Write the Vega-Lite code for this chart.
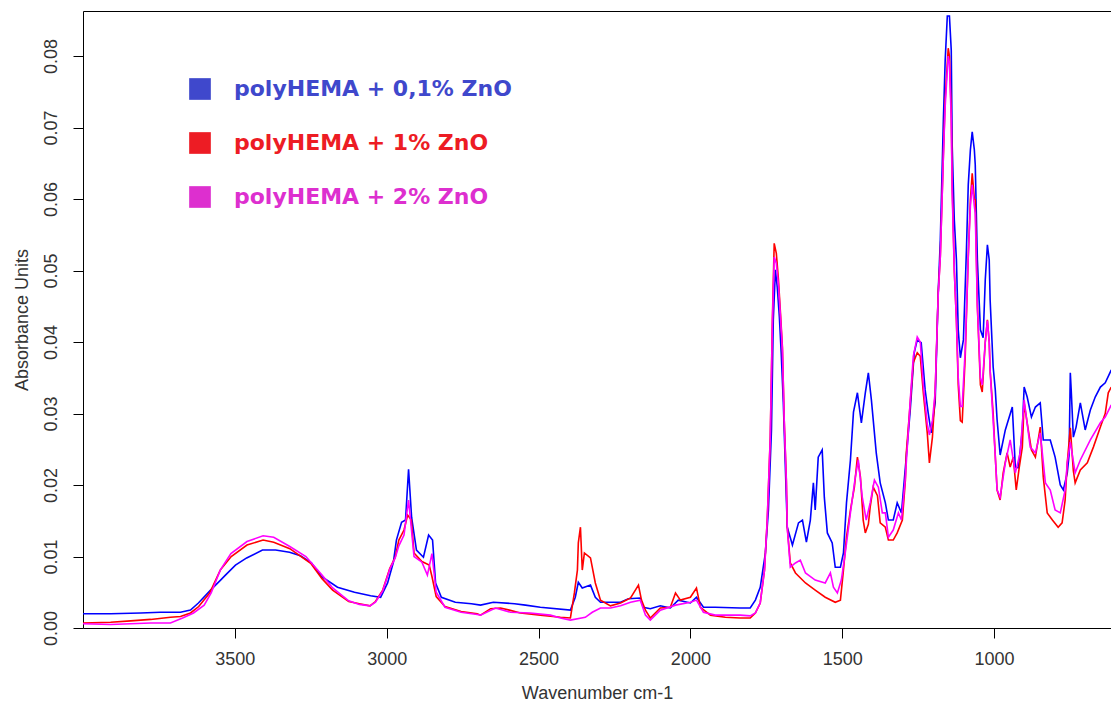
{
"$schema":"https://vega.github.io/schema/vega-lite/v6.json",
"width":1028,"height":617,
"autosize":{"type":"none"},
"padding":{"left":83,"top":11,"right":0,"bottom":74},
"background":"white",
"config":{"view":{"stroke":null},"font":"Liberation Sans"},
"datasets":{
"blue":[{"wn":4000,"abs":0.0020},{"wn":3909,"abs":0.0020},{"wn":3810,"abs":0.0021},{"wn":3745,"abs":0.0022},{"wn":3679,"abs":0.0022},{"wn":3646,"abs":0.0025},{"wn":3620,"abs":0.0035},{"wn":3580,"abs":0.0053},{"wn":3547,"abs":0.0067},{"wn":3531,"abs":0.0074},{"wn":3498,"abs":0.0088},{"wn":3461,"abs":0.0098},{"wn":3409,"abs":0.0109},{"wn":3366,"abs":0.0109},{"wn":3320,"abs":0.0106},{"wn":3284,"abs":0.0101},{"wn":3248,"abs":0.0091},{"wn":3215,"abs":0.0072},{"wn":3162,"abs":0.0057},{"wn":3106,"abs":0.0050},{"wn":3053,"abs":0.0045},{"wn":3020,"abs":0.0043},{"wn":2997,"abs":0.0063},{"wn":2978,"abs":0.0092},{"wn":2968,"abs":0.0123},{"wn":2951,"abs":0.0148},{"wn":2938,"abs":0.0151},{"wn":2928,"abs":0.0222},{"wn":2918,"abs":0.0155},{"wn":2902,"abs":0.0109},{"wn":2879,"abs":0.0099},{"wn":2862,"abs":0.0130},{"wn":2849,"abs":0.0123},{"wn":2839,"abs":0.0063},{"wn":2820,"abs":0.0043},{"wn":2774,"abs":0.0036},{"wn":2721,"abs":0.0034},{"wn":2691,"abs":0.0032},{"wn":2649,"abs":0.0036},{"wn":2579,"abs":0.0034},{"wn":2543,"abs":0.0032},{"wn":2494,"abs":0.0029},{"wn":2395,"abs":0.0025},{"wn":2379,"abs":0.0043},{"wn":2369,"abs":0.0064},{"wn":2356,"abs":0.0056},{"wn":2329,"abs":0.0060},{"wn":2313,"abs":0.0043},{"wn":2296,"abs":0.0036},{"wn":2230,"abs":0.0036},{"wn":2204,"abs":0.0041},{"wn":2165,"abs":0.0042},{"wn":2155,"abs":0.0029},{"wn":2132,"abs":0.0027},{"wn":2099,"abs":0.0031},{"wn":2066,"abs":0.0028},{"wn":2040,"abs":0.0039},{"wn":2000,"abs":0.0035},{"wn":1980,"abs":0.0043},{"wn":1957,"abs":0.0029},{"wn":1918,"abs":0.0029},{"wn":1836,"abs":0.0028},{"wn":1803,"abs":0.0028},{"wn":1786,"abs":0.0039},{"wn":1770,"abs":0.0057},{"wn":1753,"abs":0.0105},{"wn":1743,"abs":0.0165},{"wn":1733,"abs":0.0277},{"wn":1727,"abs":0.0431},{"wn":1720,"abs":0.0501},{"wn":1714,"abs":0.0477},{"wn":1707,"abs":0.0435},{"wn":1701,"abs":0.0385},{"wn":1694,"abs":0.0315},{"wn":1687,"abs":0.0221},{"wn":1681,"abs":0.0141},{"wn":1664,"abs":0.0116},{"wn":1644,"abs":0.0147},{"wn":1631,"abs":0.0151},{"wn":1618,"abs":0.0120},{"wn":1605,"abs":0.0151},{"wn":1595,"abs":0.0203},{"wn":1589,"abs":0.0165},{"wn":1579,"abs":0.0239},{"wn":1566,"abs":0.0249},{"wn":1559,"abs":0.0183},{"wn":1549,"abs":0.0133},{"wn":1533,"abs":0.0119},{"wn":1523,"abs":0.0085},{"wn":1506,"abs":0.0085},{"wn":1496,"abs":0.0105},{"wn":1486,"abs":0.0175},{"wn":1473,"abs":0.0235},{"wn":1463,"abs":0.0302},{"wn":1450,"abs":0.0329},{"wn":1437,"abs":0.0287},{"wn":1424,"abs":0.0329},{"wn":1414,"abs":0.0357},{"wn":1404,"abs":0.0319},{"wn":1388,"abs":0.0245},{"wn":1375,"abs":0.0203},{"wn":1358,"abs":0.0175},{"wn":1348,"abs":0.0151},{"wn":1332,"abs":0.0151},{"wn":1319,"abs":0.0175},{"wn":1305,"abs":0.0161},{"wn":1292,"abs":0.0225},{"wn":1276,"abs":0.0305},{"wn":1263,"abs":0.0385},{"wn":1253,"abs":0.0403},{"wn":1240,"abs":0.0399},{"wn":1227,"abs":0.0333},{"wn":1217,"abs":0.0301},{"wn":1207,"abs":0.0273},{"wn":1194,"abs":0.0315},{"wn":1184,"abs":0.0469},{"wn":1177,"abs":0.0543},{"wn":1167,"abs":0.0710},{"wn":1161,"abs":0.0794},{"wn":1154,"abs":0.0856},{"wn":1147,"abs":0.0856},{"wn":1141,"abs":0.0808},{"wn":1138,"abs":0.0676},{"wn":1131,"abs":0.0571},{"wn":1124,"abs":0.0515},{"wn":1118,"abs":0.0417},{"wn":1111,"abs":0.0378},{"wn":1101,"abs":0.0403},{"wn":1091,"abs":0.0529},{"wn":1085,"abs":0.0620},{"wn":1078,"abs":0.0669},{"wn":1072,"abs":0.0694},{"wn":1065,"abs":0.0669},{"wn":1062,"abs":0.0648},{"wn":1055,"abs":0.0515},{"wn":1045,"abs":0.0417},{"wn":1036,"abs":0.0406},{"wn":1029,"abs":0.0487},{"wn":1022,"abs":0.0536},{"wn":1016,"abs":0.0515},{"wn":1013,"abs":0.0459},{"wn":1003,"abs":0.0365},{"wn":996,"abs":0.0333},{"wn":990,"abs":0.0291},{"wn":980,"abs":0.0242},{"wn":963,"abs":0.0277},{"wn":940,"abs":0.0309},{"wn":930,"abs":0.0225},{"wn":920,"abs":0.0224},{"wn":907,"abs":0.0277},{"wn":901,"abs":0.0337},{"wn":891,"abs":0.0323},{"wn":877,"abs":0.0295},{"wn":864,"abs":0.0309},{"wn":848,"abs":0.0315},{"wn":838,"abs":0.0263},{"wn":815,"abs":0.0263},{"wn":799,"abs":0.0239},{"wn":782,"abs":0.0200},{"wn":772,"abs":0.0193},{"wn":759,"abs":0.0217},{"wn":753,"abs":0.0242},{"wn":749,"abs":0.0357},{"wn":746,"abs":0.0333},{"wn":739,"abs":0.0267},{"wn":730,"abs":0.0281},{"wn":716,"abs":0.0315},{"wn":700,"abs":0.0277},{"wn":683,"abs":0.0305},{"wn":667,"abs":0.0323},{"wn":650,"abs":0.0337},{"wn":634,"abs":0.0343},{"wn":614,"abs":0.0361}],
"red":[{"wn":4000,"abs":0.0007},{"wn":3909,"abs":0.0008},{"wn":3843,"abs":0.0010},{"wn":3777,"abs":0.0012},{"wn":3712,"abs":0.0015},{"wn":3679,"abs":0.0016},{"wn":3646,"abs":0.0021},{"wn":3619,"abs":0.0030},{"wn":3583,"abs":0.0049},{"wn":3548,"abs":0.0081},{"wn":3512,"abs":0.0100},{"wn":3460,"abs":0.0116},{"wn":3407,"abs":0.0123},{"wn":3372,"abs":0.0120},{"wn":3319,"abs":0.0111},{"wn":3249,"abs":0.0090},{"wn":3213,"abs":0.0069},{"wn":3178,"abs":0.0053},{"wn":3125,"abs":0.0037},{"wn":3090,"abs":0.0034},{"wn":3055,"abs":0.0031},{"wn":3037,"abs":0.0037},{"wn":3013,"abs":0.0053},{"wn":2990,"abs":0.0083},{"wn":2972,"abs":0.0099},{"wn":2960,"abs":0.0123},{"wn":2943,"abs":0.0137},{"wn":2931,"abs":0.0158},{"wn":2919,"abs":0.0151},{"wn":2910,"abs":0.0105},{"wn":2884,"abs":0.0093},{"wn":2860,"abs":0.0088},{"wn":2851,"abs":0.0072},{"wn":2837,"abs":0.0044},{"wn":2808,"abs":0.0030},{"wn":2755,"abs":0.0023},{"wn":2702,"abs":0.0020},{"wn":2691,"abs":0.0018},{"wn":2658,"abs":0.0027},{"wn":2625,"abs":0.0028},{"wn":2596,"abs":0.0025},{"wn":2560,"abs":0.0021},{"wn":2494,"abs":0.0018},{"wn":2428,"abs":0.0015},{"wn":2395,"abs":0.0014},{"wn":2382,"abs":0.0049},{"wn":2372,"abs":0.0081},{"wn":2369,"abs":0.0119},{"wn":2362,"abs":0.0141},{"wn":2356,"abs":0.0081},{"wn":2349,"abs":0.0105},{"wn":2329,"abs":0.0098},{"wn":2313,"abs":0.0063},{"wn":2296,"abs":0.0039},{"wn":2263,"abs":0.0031},{"wn":2230,"abs":0.0035},{"wn":2197,"abs":0.0042},{"wn":2171,"abs":0.0060},{"wn":2161,"abs":0.0039},{"wn":2148,"abs":0.0025},{"wn":2132,"abs":0.0014},{"wn":2099,"abs":0.0028},{"wn":2066,"abs":0.0029},{"wn":2049,"abs":0.0049},{"wn":2033,"abs":0.0039},{"wn":2000,"abs":0.0043},{"wn":1980,"abs":0.0056},{"wn":1967,"abs":0.0029},{"wn":1934,"abs":0.0018},{"wn":1885,"abs":0.0015},{"wn":1836,"abs":0.0014},{"wn":1803,"abs":0.0014},{"wn":1786,"abs":0.0021},{"wn":1770,"abs":0.0035},{"wn":1756,"abs":0.0081},{"wn":1747,"abs":0.0151},{"wn":1737,"abs":0.0267},{"wn":1730,"abs":0.0431},{"wn":1724,"abs":0.0538},{"wn":1717,"abs":0.0524},{"wn":1710,"abs":0.0487},{"wn":1704,"abs":0.0445},{"wn":1697,"abs":0.0393},{"wn":1691,"abs":0.0291},{"wn":1684,"abs":0.0207},{"wn":1681,"abs":0.0141},{"wn":1671,"abs":0.0091},{"wn":1654,"abs":0.0077},{"wn":1621,"abs":0.0063},{"wn":1589,"abs":0.0053},{"wn":1556,"abs":0.0043},{"wn":1523,"abs":0.0036},{"wn":1506,"abs":0.0039},{"wn":1496,"abs":0.0081},{"wn":1486,"abs":0.0127},{"wn":1473,"abs":0.0165},{"wn":1460,"abs":0.0197},{"wn":1450,"abs":0.0239},{"wn":1440,"abs":0.0211},{"wn":1431,"abs":0.0151},{"wn":1424,"abs":0.0133},{"wn":1414,"abs":0.0145},{"wn":1408,"abs":0.0169},{"wn":1398,"abs":0.0197},{"wn":1384,"abs":0.0185},{"wn":1375,"abs":0.0147},{"wn":1358,"abs":0.0141},{"wn":1348,"abs":0.0123},{"wn":1332,"abs":0.0123},{"wn":1319,"abs":0.0133},{"wn":1302,"abs":0.0151},{"wn":1292,"abs":0.0207},{"wn":1289,"abs":0.0245},{"wn":1276,"abs":0.0315},{"wn":1266,"abs":0.0371},{"wn":1253,"abs":0.0385},{"wn":1243,"abs":0.0380},{"wn":1233,"abs":0.0329},{"wn":1220,"abs":0.0273},{"wn":1213,"abs":0.0231},{"wn":1203,"abs":0.0267},{"wn":1194,"abs":0.0329},{"wn":1184,"abs":0.0469},{"wn":1177,"abs":0.0520},{"wn":1167,"abs":0.0660},{"wn":1161,"abs":0.0740},{"wn":1154,"abs":0.0790},{"wn":1151,"abs":0.0811},{"wn":1147,"abs":0.0800},{"wn":1141,"abs":0.0720},{"wn":1138,"abs":0.0620},{"wn":1131,"abs":0.0500},{"wn":1124,"abs":0.0430},{"wn":1118,"abs":0.0340},{"wn":1111,"abs":0.0290},{"wn":1105,"abs":0.0288},{"wn":1095,"abs":0.0380},{"wn":1085,"abs":0.0520},{"wn":1078,"abs":0.0599},{"wn":1072,"abs":0.0636},{"wn":1065,"abs":0.0600},{"wn":1062,"abs":0.0599},{"wn":1055,"abs":0.0450},{"wn":1045,"abs":0.0340},{"wn":1039,"abs":0.0330},{"wn":1029,"abs":0.0400},{"wn":1022,"abs":0.0431},{"wn":1016,"abs":0.0400},{"wn":1013,"abs":0.0360},{"wn":1003,"abs":0.0300},{"wn":996,"abs":0.0240},{"wn":990,"abs":0.0193},{"wn":980,"abs":0.0179},{"wn":970,"abs":0.0217},{"wn":957,"abs":0.0245},{"wn":947,"abs":0.0225},{"wn":937,"abs":0.0239},{"wn":927,"abs":0.0193},{"wn":917,"abs":0.0225},{"wn":907,"abs":0.0253},{"wn":901,"abs":0.0315},{"wn":891,"abs":0.0287},{"wn":877,"abs":0.0249},{"wn":864,"abs":0.0239},{"wn":848,"abs":0.0281},{"wn":838,"abs":0.0211},{"wn":825,"abs":0.0161},{"wn":808,"abs":0.0151},{"wn":789,"abs":0.0141},{"wn":776,"abs":0.0147},{"wn":766,"abs":0.0179},{"wn":759,"abs":0.0231},{"wn":749,"abs":0.0280},{"wn":739,"abs":0.0220},{"wn":733,"abs":0.0203},{"wn":716,"abs":0.0221},{"wn":693,"abs":0.0231},{"wn":673,"abs":0.0253},{"wn":650,"abs":0.0281},{"wn":634,"abs":0.0300},{"wn":624,"abs":0.0329},{"wn":614,"abs":0.0337}],
"magenta":[{"wn":4000,"abs":0.0006},{"wn":3909,"abs":0.0005},{"wn":3843,"abs":0.0006},{"wn":3777,"abs":0.0007},{"wn":3712,"abs":0.0007},{"wn":3672,"abs":0.0014},{"wn":3636,"abs":0.0021},{"wn":3601,"abs":0.0032},{"wn":3578,"abs":0.0049},{"wn":3548,"abs":0.0081},{"wn":3513,"abs":0.0104},{"wn":3460,"abs":0.0121},{"wn":3407,"abs":0.0129},{"wn":3372,"abs":0.0127},{"wn":3319,"abs":0.0114},{"wn":3266,"abs":0.0100},{"wn":3213,"abs":0.0074},{"wn":3178,"abs":0.0056},{"wn":3125,"abs":0.0038},{"wn":3090,"abs":0.0033},{"wn":3055,"abs":0.0031},{"wn":3037,"abs":0.0036},{"wn":3013,"abs":0.0052},{"wn":2990,"abs":0.0082},{"wn":2972,"abs":0.0098},{"wn":2960,"abs":0.0115},{"wn":2943,"abs":0.0130},{"wn":2928,"abs":0.0179},{"wn":2919,"abs":0.0140},{"wn":2910,"abs":0.0100},{"wn":2884,"abs":0.0092},{"wn":2866,"abs":0.0074},{"wn":2851,"abs":0.0104},{"wn":2837,"abs":0.0050},{"wn":2808,"abs":0.0029},{"wn":2755,"abs":0.0022},{"wn":2702,"abs":0.0019},{"wn":2691,"abs":0.0018},{"wn":2642,"abs":0.0028},{"wn":2592,"abs":0.0022},{"wn":2527,"abs":0.0021},{"wn":2461,"abs":0.0018},{"wn":2428,"abs":0.0014},{"wn":2395,"abs":0.0011},{"wn":2346,"abs":0.0015},{"wn":2323,"abs":0.0022},{"wn":2296,"abs":0.0028},{"wn":2263,"abs":0.0028},{"wn":2230,"abs":0.0031},{"wn":2197,"abs":0.0036},{"wn":2165,"abs":0.0039},{"wn":2148,"abs":0.0018},{"wn":2132,"abs":0.0011},{"wn":2099,"abs":0.0025},{"wn":2049,"abs":0.0032},{"wn":2000,"abs":0.0036},{"wn":1980,"abs":0.0039},{"wn":1957,"abs":0.0022},{"wn":1918,"abs":0.0018},{"wn":1836,"abs":0.0018},{"wn":1803,"abs":0.0017},{"wn":1786,"abs":0.0021},{"wn":1770,"abs":0.0035},{"wn":1756,"abs":0.0081},{"wn":1747,"abs":0.0150},{"wn":1737,"abs":0.0265},{"wn":1730,"abs":0.0425},{"wn":1724,"abs":0.0519},{"wn":1717,"abs":0.0510},{"wn":1710,"abs":0.0480},{"wn":1704,"abs":0.0440},{"wn":1697,"abs":0.0390},{"wn":1691,"abs":0.0290},{"wn":1684,"abs":0.0205},{"wn":1681,"abs":0.0140},{"wn":1671,"abs":0.0085},{"wn":1654,"abs":0.0091},{"wn":1638,"abs":0.0095},{"wn":1621,"abs":0.0077},{"wn":1589,"abs":0.0067},{"wn":1556,"abs":0.0063},{"wn":1539,"abs":0.0077},{"wn":1529,"abs":0.0057},{"wn":1516,"abs":0.0049},{"wn":1503,"abs":0.0067},{"wn":1490,"abs":0.0105},{"wn":1473,"abs":0.0161},{"wn":1457,"abs":0.0211},{"wn":1447,"abs":0.0235},{"wn":1434,"abs":0.0183},{"wn":1421,"abs":0.0151},{"wn":1408,"abs":0.0175},{"wn":1394,"abs":0.0207},{"wn":1381,"abs":0.0197},{"wn":1368,"abs":0.0161},{"wn":1358,"abs":0.0161},{"wn":1348,"abs":0.0127},{"wn":1332,"abs":0.0137},{"wn":1315,"abs":0.0161},{"wn":1305,"abs":0.0151},{"wn":1292,"abs":0.0211},{"wn":1276,"abs":0.0319},{"wn":1266,"abs":0.0380},{"wn":1253,"abs":0.0407},{"wn":1243,"abs":0.0400},{"wn":1233,"abs":0.0340},{"wn":1220,"abs":0.0285},{"wn":1213,"abs":0.0270},{"wn":1203,"abs":0.0290},{"wn":1194,"abs":0.0330},{"wn":1184,"abs":0.0465},{"wn":1177,"abs":0.0520},{"wn":1167,"abs":0.0660},{"wn":1161,"abs":0.0730},{"wn":1154,"abs":0.0780},{"wn":1151,"abs":0.0800},{"wn":1147,"abs":0.0790},{"wn":1141,"abs":0.0710},{"wn":1138,"abs":0.0610},{"wn":1131,"abs":0.0500},{"wn":1124,"abs":0.0430},{"wn":1118,"abs":0.0350},{"wn":1111,"abs":0.0310},{"wn":1105,"abs":0.0310},{"wn":1095,"abs":0.0390},{"wn":1085,"abs":0.0520},{"wn":1078,"abs":0.0590},{"wn":1072,"abs":0.0620},{"wn":1065,"abs":0.0590},{"wn":1062,"abs":0.0580},{"wn":1055,"abs":0.0450},{"wn":1045,"abs":0.0350},{"wn":1039,"abs":0.0340},{"wn":1029,"abs":0.0400},{"wn":1022,"abs":0.0430},{"wn":1016,"abs":0.0400},{"wn":1013,"abs":0.0360},{"wn":1003,"abs":0.0290},{"wn":996,"abs":0.0240},{"wn":990,"abs":0.0193},{"wn":980,"abs":0.0183},{"wn":963,"abs":0.0231},{"wn":947,"abs":0.0263},{"wn":930,"abs":0.0217},{"wn":914,"abs":0.0245},{"wn":901,"abs":0.0319},{"wn":881,"abs":0.0253},{"wn":864,"abs":0.0245},{"wn":848,"abs":0.0273},{"wn":831,"abs":0.0203},{"wn":815,"abs":0.0193},{"wn":799,"abs":0.0165},{"wn":782,"abs":0.0161},{"wn":766,"abs":0.0193},{"wn":759,"abs":0.0231},{"wn":749,"abs":0.0260},{"wn":733,"abs":0.0217},{"wn":716,"abs":0.0235},{"wn":683,"abs":0.0263},{"wn":650,"abs":0.0287},{"wn":634,"abs":0.0295},{"wn":614,"abs":0.0312}]
},
"layer":[
{"data":{"name":"blue"},
 "mark":{"type":"line","strokeWidth":1.6},
 "encoding":{
  "x":{"field":"wn","type":"quantitative",
       "scale":{"domain":[615,4000],"reverse":true,"nice":false,"zero":false},
       "axis":{"orient":"bottom","values":[3500,3000,2500,2000,1500,1000],"format":"d","grid":false,"tickSize":10,"tickColor":"black","domainColor":"black","labelFontSize":18,"labelColor":"#333","labelPadding":12,"title":"Wavenumber cm-1","titleFontSize":18,"titleFontWeight":"normal","titleColor":"#333","titlePadding":16}},
  "y":{"field":"abs","type":"quantitative",
       "scale":{"domain":[0,0.0863],"nice":false,"zero":false},
       "axis":{"values":[0,0.01,0.02,0.03,0.04,0.05,0.06,0.07,0.08],"format":".2f","grid":false,"tickSize":10,"tickColor":"black","domainColor":"black","labelAngle":-90,"labelAlign":"center","labelBaseline":"alphabetic","labelFontSize":18,"labelColor":"#333","labelPadding":17,"title":"Absorbance Units","titleFontSize":18,"titleFontWeight":"normal","titleColor":"#333","titlePadding":11}},
  "color":{"datum":"polyHEMA + 0,1% ZnO","type":"nominal",
       "scale":{"domain":["polyHEMA + 0,1% ZnO","polyHEMA + 1% ZnO","polyHEMA + 2% ZnO"],"range":["#0000FF","#FF0000","#FF00FF"]},
       "legend":{"orient":"none","legendX":106,"legendY":67,"title":null,"symbolType":"square","symbolSize":470,"symbolStrokeWidth":0,"labelFont":"DejaVu Sans","labelFontSize":22,"labelFontWeight":"bold","labelLimit":0,"labelOffset":23,"rowPadding":32,"padding":0,
         "encode":{"labels":{"update":{"fill":{"signal":"datum.value === 'polyHEMA + 0,1% ZnO' ? '#3F48CC' : datum.value === 'polyHEMA + 1% ZnO' ? '#ED1C24' : '#DD2FCF'"}}},
                   "symbols":{"update":{"fill":{"signal":"datum.value === 'polyHEMA + 0,1% ZnO' ? '#3F48CC' : datum.value === 'polyHEMA + 1% ZnO' ? '#ED1C24' : '#DD2FCF'"},"stroke":{"value":"transparent"},"opacity":{"value":1}}}}}}
 }},
{"data":{"name":"red"},
 "mark":{"type":"line","strokeWidth":1.6},
 "encoding":{
  "x":{"field":"wn","type":"quantitative","axis":null},
  "y":{"field":"abs","type":"quantitative"},
  "color":{"datum":"polyHEMA + 1% ZnO","type":"nominal"}
 }},
{"data":{"name":"magenta"},
 "mark":{"type":"line","strokeWidth":1.6},
 "encoding":{
  "x":{"field":"wn","type":"quantitative","axis":null},
  "y":{"field":"abs","type":"quantitative"},
  "color":{"datum":"polyHEMA + 2% ZnO","type":"nominal"}
 }},
{"data":{"values":[]},
 "mark":"rule",
 "encoding":{
  "x":{"field":"wn","type":"quantitative","axis":{"orient":"top","labels":false,"ticks":false,"grid":false,"title":null,"domainColor":"black"}}
 }}
],
"resolve":{"axis":{"x":"independent"}}
}
